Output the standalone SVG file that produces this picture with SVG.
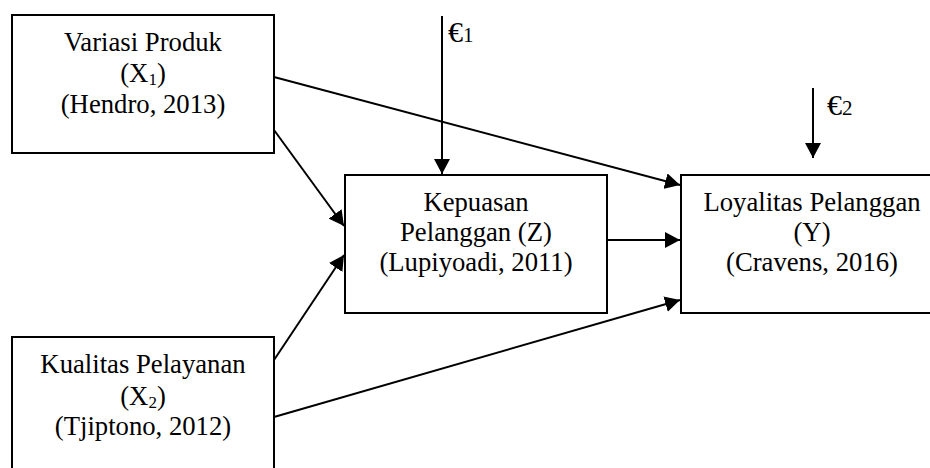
<svg xmlns="http://www.w3.org/2000/svg" width="930" height="468" viewBox="0 0 930 468">
<style>
.box{fill:#fff;stroke:#000;stroke-width:2}
.t{font-family:"Liberation Serif","Times New Roman",serif;font-size:26.7px;fill:#000;text-anchor:middle}
.e{font-family:"Liberation Serif","Times New Roman",serif;font-size:30px;fill:#000}
.c{stroke:#000;stroke-width:2;fill:none;marker-end:url(#ah)}
</style>
<defs>
<marker id="ah" markerUnits="userSpaceOnUse" viewBox="0 0 15 16" refX="15" refY="8" markerWidth="15" markerHeight="16" orient="auto">
<path d="M0,0 L15,8 L0,16 z" fill="#000"/>
</marker>
</defs>
<rect width="930" height="468" fill="#fff"/>
<g id="connectors">
<line class="c" x1="274" y1="77" x2="680" y2="185"/>
<line class="c" x1="274" y1="130" x2="344" y2="226"/>
<line class="c" x1="274" y1="360" x2="344" y2="255"/>
<line class="c" x1="274" y1="417" x2="680" y2="300"/>
<line class="c" x1="607" y1="240" x2="680" y2="240"/>
<line class="c" x1="442" y1="16" x2="442" y2="174"/>
<line class="c" x1="813" y1="88" x2="813" y2="158"/>
</g>
<g id="x1">
<rect class="box" x="12" y="15" width="262" height="138"/>
<text class="t" x="143" y="51">Variasi Produk</text>
<text class="t" x="143" y="82">(X<tspan font-size="17" dy="3">1</tspan><tspan dy="-3">)</tspan></text>
<text class="t" x="143" y="113">(Hendro, 2013)</text>
</g>
<g id="z">
<rect class="box" x="345" y="175" width="262" height="138"/>
<text class="t" x="476" y="211">Kepuasan</text>
<text class="t" x="476" y="241">Pelanggan (Z)</text>
<text class="t" x="476" y="271">(Lupiyoadi, 2011)</text>
</g>
<g id="y">
<rect class="box" x="681" y="175" width="262" height="138"/>
<text class="t" x="812" y="211">Loyalitas Pelanggan</text>
<text class="t" x="812" y="241">(Y)</text>
<text class="t" x="812" y="271">(Cravens, 2016)</text>
</g>
<g id="x2">
<rect class="box" x="12" y="337" width="262" height="200"/>
<text class="t" x="143" y="373">Kualitas Pelayanan</text>
<text class="t" x="143" y="405">(X<tspan font-size="17" dy="3">2</tspan><tspan dy="-3">)</tspan></text>
<text class="t" x="143" y="435">(Tjiptono, 2012)</text>
</g>
<g id="e1">
<text class="e" x="448" y="42">€<tspan font-size="21">1</tspan></text>
</g>
<g id="e2">
<text class="e" x="827" y="115">€<tspan font-size="21">2</tspan></text>
</g>
</svg>
